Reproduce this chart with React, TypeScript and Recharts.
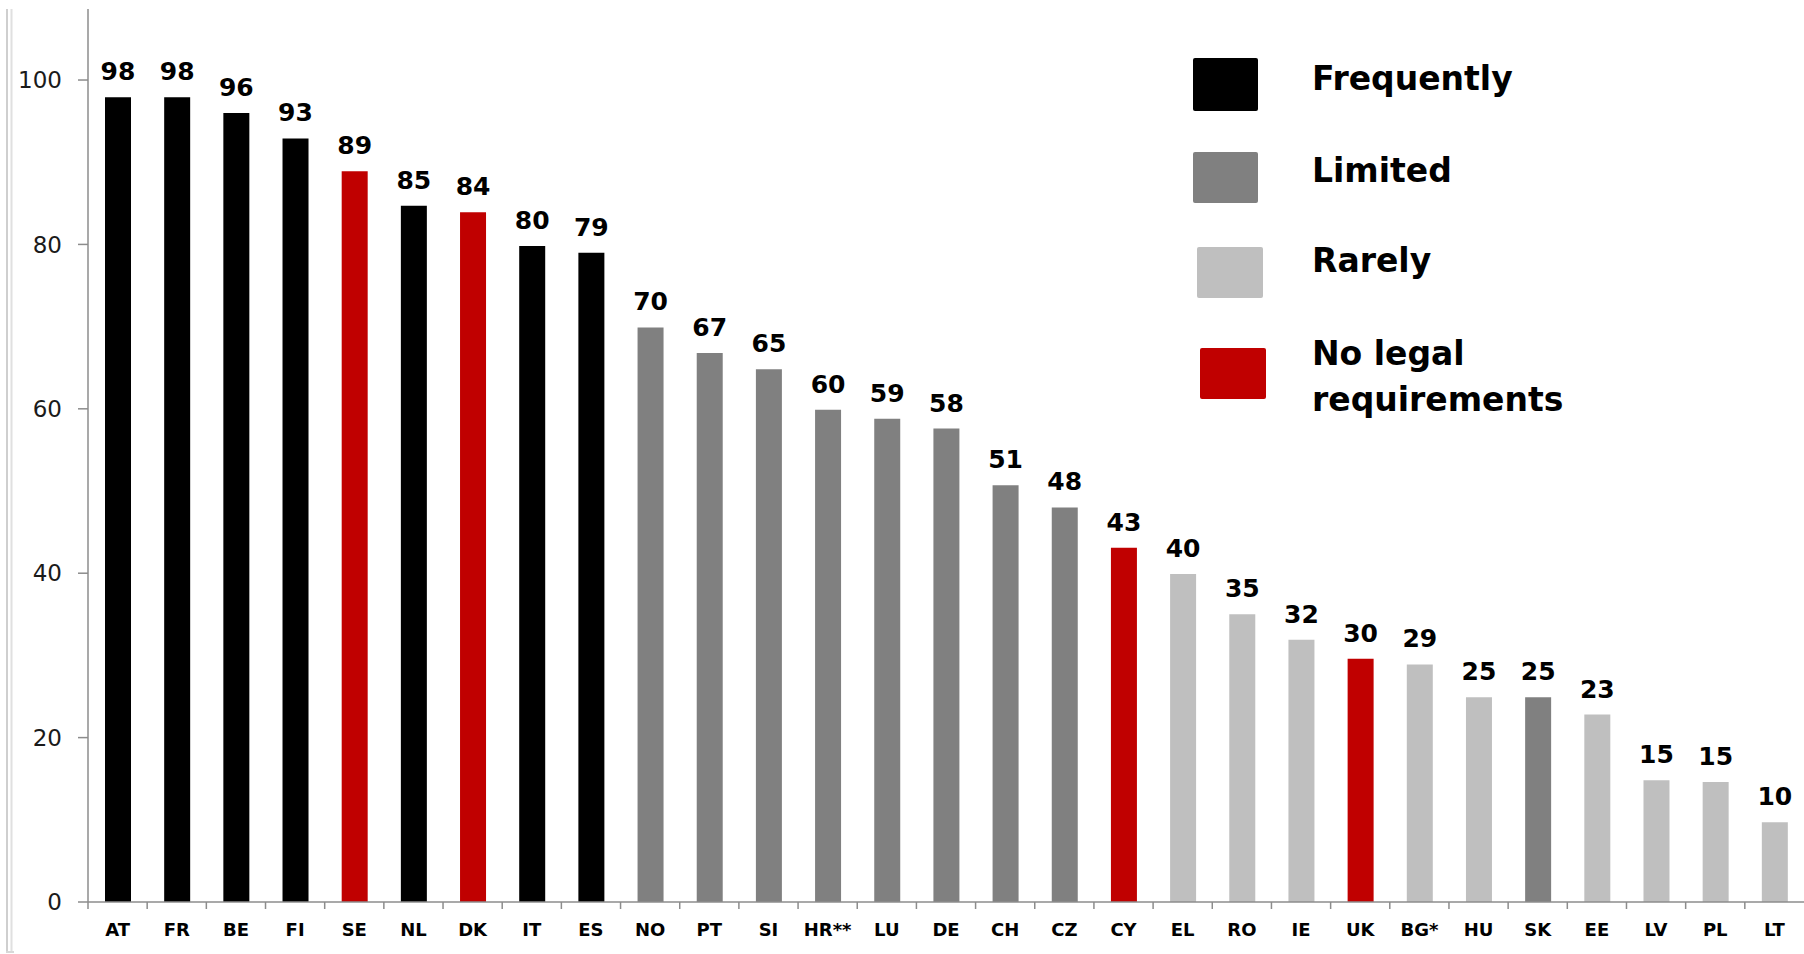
import { Bar, BarChart, Cell, LabelList, XAxis, YAxis } from "recharts";

const countries = [
  "AT", "FR", "BE", "FI", "SE", "NL", "DK", "IT", "ES", "NO",
  "PT", "SI", "HR**", "LU", "DE", "CH", "CZ", "CY", "EL", "RO",
  "IE", "UK", "BG*", "HU", "SK", "EE", "LV", "PL", "LT",
];

const shares = [
  97.9, 97.9, 96.0, 92.9, 88.9, 84.7, 83.9, 79.8, 79.0, 69.9,
  66.8, 64.8, 59.9, 58.8, 57.6, 50.7, 48.0, 43.1, 39.9, 35.0,
  31.9, 29.6, 28.9, 24.9, 24.9, 22.8, 14.8, 14.6, 9.7,
];

// F = frequently, L = limited, R = rarely, N = no legal requirements
const usage = [
  "F", "F", "F", "F", "N", "F", "N", "F", "F", "L",
  "L", "L", "L", "L", "L", "L", "L", "N", "R", "R",
  "R", "N", "R", "R", "L", "R", "R", "R", "R",
];

const yTicks = [0, 20, 40, 60, 80, 100];

const legendKeys = ["F", "L", "R", "N"];
const legendLabels = [["Frequently"], ["Limited"], ["Rarely"], ["No legal", "requirements"]];

const colors: Record<string, string> = {
  F: "#000000",
  L: "#808080",
  R: "#bfbfbf",
  N: "#c00000",
};

const data = countries.map((country, i) => ({
  country,
  value: shares[i],
  usage: usage[i],
}));

const axisGrey = "#8c8c8c";
const font = "'DejaVu Sans', sans-serif";

function CountryTick(props: any) {
  const { x, y, payload } = props;
  const half = payload?.offset ?? 29.6;
  return (
    <g>
      <line x1={x - half} x2={x - half} y1={y} y2={y + 7} stroke={axisGrey} strokeWidth={1.5} />
      <text
        x={x}
        y={y + 34}
        textAnchor="middle"
        fontFamily={font}
        fontWeight="bold"
        fontSize={18}
        fill="#000"
      >
        {payload.value}
      </text>
    </g>
  );
}

// legend placement
const swatches = [
  { x: 1193, y: 58, w: 65, h: 53 },
  { x: 1193, y: 152, w: 65, h: 51 },
  { x: 1197, y: 247, w: 66, h: 51 },
  { x: 1200, y: 348, w: 66, h: 51 },
];
const labelBaselines = [[90], [182], [272], [365, 411]];

export default function App() {
  return (
    <div style={{ position: "absolute", left: 0, top: 0, width: 1804, height: 954, background: "#fff" }}>
      <BarChart
        width={1804}
        height={954}
        data={data}
        margin={{ top: 9, right: 0, bottom: 0, left: 0 }}
      >
        <XAxis
          dataKey="country"
          height={52}
          interval={0}
          stroke={axisGrey}
          strokeWidth={1.5}
          tickLine={false}
          tickSize={0}
          tickMargin={0}
          tick={<CountryTick />}
        />
        <YAxis
          width={88}
          domain={[0, 108.64]}
          ticks={yTicks}
          allowDataOverflow
          stroke={axisGrey}
          strokeWidth={1.5}
          tickSize={10}
          tickMargin={16}
          tick={{ fontFamily: font, fontSize: 23, fill: "#1a1a1a" }}
        />
        <Bar dataKey="value" barSize={26} isAnimationActive={false}>
          {data.map((d) => (
            <Cell key={d.country} fill={colors[d.usage]} />
          ))}
          <LabelList
            dataKey="value"
            position="top"
            offset={17}
            formatter={(v: any) => Math.round(Number(v))}
            style={{ fontFamily: font, fontWeight: "bold", fontSize: 25, fill: "#000" }}
          />
        </Bar>
      </BarChart>

      <svg
        width={1804}
        height={954}
        style={{ position: "absolute", left: 0, top: 0, pointerEvents: "none" }}
      >
        {/* faint frame at the left edge */}
        <line x1={7} x2={7} y1={9} y2={952} stroke="#cfcfcf" strokeWidth={2} />
        <line x1={11.5} x2={11.5} y1={9} y2={952} stroke="#e0e0e0" strokeWidth={2} />
        <line x1={6} x2={14} y1={952} y2={952} stroke="#d8d8d8" strokeWidth={2} />

        {legendKeys.map((key, i) => (
          <g key={key}>
            <rect
              x={swatches[i].x}
              y={swatches[i].y}
              width={swatches[i].w}
              height={swatches[i].h}
              rx={2}
              fill={colors[key]}
            />
            {legendLabels[i].map((line, j) => (
              <text
                key={line}
                x={1312}
                y={labelBaselines[i][j]}
                fontFamily={font}
                fontWeight="bold"
                fontSize={33}
                fill="#000"
              >
                {line}
              </text>
            ))}
          </g>
        ))}
      </svg>
    </div>
  );
}
